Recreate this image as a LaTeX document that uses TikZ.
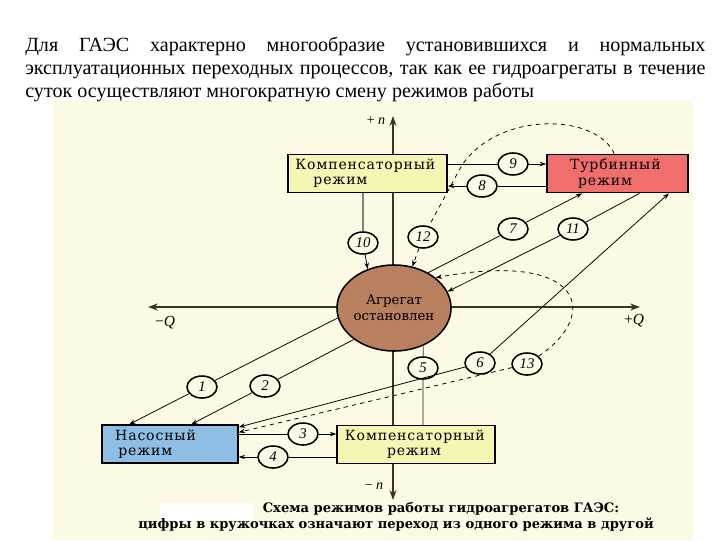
\documentclass[tikz,border=0pt]{standalone}
\usepackage{fontspec}
\setmainfont{Liberation Serif}
\newfontfamily\labelfont{DejaVu Serif}
\newfontfamily\boxfont[LetterSpace=6]{DejaVu Serif}
\usetikzlibrary{arrows.meta,shapes.geometric}

\definecolor{panel}{RGB}{252,250,228}
\definecolor{compyellow}{RGB}{246,246,180}
\definecolor{turbred}{RGB}{240,110,108}
\definecolor{pumpblue}{RGB}{142,190,228}
\definecolor{stopbrown}{RGB}{184,128,94}
\definecolor{axisdark}{RGB}{58,52,36}

\tikzset{
  mode/.style={draw=black, line width=1.1pt, minimum height=0.92cm, inner xsep=0pt,
    align=left, font=\boxfont\fontsize{10}{10.7}\selectfont},
  stopmode/.style={draw=black, line width=1.1pt, ellipse, fill=stopbrown, inner sep=0pt,
    minimum width=2.85cm, minimum height=2.15cm},
  num/.style={draw=black, ellipse, line width=1.1pt, fill=panel, inner sep=0pt,
    minimum width=0.75cm, minimum height=0.55cm, font=\itshape\fontsize{10.5}{10.5}\selectfont},
  axis/.style={draw=axisdark, line width=1.8pt,
    {Stealth[length=7pt,width=5pt]}-{Stealth[length=7pt,width=5pt]}},
  axlabel/.style={font=\fontsize{10}{10}\selectfont},
  conn/.style={draw=black, line width=0.55pt},
  arr/.style={-{Stealth[length=4.5pt,width=3.2pt]}},
  grayline/.style={draw=gray, line width=1.8pt},
  para/.style={inner sep=0pt, font=\fontsize{14.3}{16}\selectfont},
  caption/.style={inner sep=0pt, font=\labelfont\bfseries\fontsize{9.3}{11}\selectfont}
}

\begin{document}
\begin{tikzpicture}[x=0.025cm, y=-0.025cm]
  \useasboundingbox (0,0) rectangle (720,540);
  \fill[panel] (53,100) rectangle (693,540);
  \fill[white] (160,503) rectangle (253,520);

  % text above the scheme
  \node[para, anchor=base west] (p1) at (25,51) {\makebox[17cm][s]{Для ГАЭС характерно многообразие установившихся и нормальных}};
  \node[para, anchor=base west] (p2) at (25,74) {\makebox[17cm][s]{эксплуатационных переходных процессов, так как ее гидроагрегаты в течение}};
  \node[para, anchor=base west] (p3) at (25,97) {суток осуществляют многократную смену режимов работы};

  % axes
  \coordinate (ntop) at (393,116);
  \coordinate (nbot) at (393,500);
  \coordinate (qleft) at (148,307);
  \coordinate (qright) at (640,307);
  \draw[axis] (nbot) -- (ntop);
  \draw[axis] (qleft) -- (qright);
  \node[axlabel] (lntop) at (376,121) {+ \textit{n}};
  \node[axlabel] (lnbot) at (374,486) {− \textit{n}};
  \node[axlabel, font=\fontsize{11}{11}\selectfont] (lqleft) at (165,323) {−\textit{Q}};
  \node[axlabel, font=\fontsize{11}{11}\selectfont] (lqright) at (634,321) {+\textit{Q}};

  % modes
  \node[mode, fill=compyellow, minimum width=3.98cm, text width=3.6cm] (tc) at (367.5,173.5) {Компенсаторный\\\hspace*{0.45cm}режим};
  \node[mode, fill=turbred, minimum width=3.53cm, text width=2.37cm] (tb) at (617.5,173.5) {Турбинный\\\hspace*{0.2cm}режим};
  \node[mode, fill=pumpblue, minimum width=3.4cm, minimum height=0.9cm, text width=2.74cm] (pu) at (170,444) {Насосный\\\hspace*{0.08cm}режим};
  \node[mode, fill=compyellow, minimum width=3.95cm, minimum height=0.88cm, text width=3.55cm] (bc) at (416,444.5) {Компенсаторный\\\hspace*{1.05cm}режим};
  \node[stopmode, label={[align=center, font=\labelfont\fontsize{9.5}{11.4}\selectfont]center:Агрегат\\остановлен}] (st) at (394,308) {};

  % transitions
  \node[num] (n1) at (202,387) {1};
  \node[num] (n2) at (265,386) {2};
  \node[num] (n3) at (303,434) {3};
  \node[num] (n4) at (273,457) {4};
  \node[num] (n5) at (423,368) {5};
  \node[num] (n6) at (480,363) {6};
  \node[num] (n7) at (513,229) {7};
  \node[num] (n8) at (482,186) {8};
  \node[num] (n9) at (513,164) {9};
  \node[num] (n10) at (363,243) {10};
  \node[num] (n11) at (573,229) {11};
  \node[num] (n12) at (423,237) {12};
  \node[num] (n13) at (527,364) {13};

  \draw[conn] (st.190) -- (n1);
  \draw[conn, arr] (n1) -- ([xshift=0.7cm]pu.north west);
  \draw[conn] (st.218) -- (n2);
  \draw[conn, arr] (n2) -- ([xshift=2.25cm]pu.north west);
  \draw[conn] (pu.east |- n3) -- (n3);
  \draw[conn, arr] (n3) -- (bc.west |- n3);
  \draw[conn] (bc.west |- n4) -- (n4);
  \draw[conn, arr] (n4) -- (pu.east |- n4);
  \draw[draw=gray, line width=0.8pt] (st.-52) -- (n5) -- (bc.north -| n5);
  \draw[conn, arr] (n6) -- ([xshift=-0.5cm]tb.south east);
  \draw[conn, arr] (n6) -- ([yshift=-0.07cm]pu.north east);
  \draw[conn] (st.46) -- (n7);
  \draw[conn, arr] (n7) -- ([xshift=0.9cm]tb.south west);
  \draw[conn] (tb.west |- n8) -- (n8);
  \draw[conn, arr] (n8) -- (tc.east |- n8);
  \draw[conn] (tc.east |- n9) -- (n9);
  \draw[conn, arr] (n9) -- (tb.west |- n9);
  \draw[grayline] (tc.south -| n10) -- (n10);
  \draw[conn, arr] (n10) -- (st.124);
  \draw[conn] ([xshift=2.33cm]tb.south west) -- (n11);
  \draw[conn, arr] (n11) -- (st.17);
  \draw[conn, dashed] ([xshift=1.7cm]tb.north west) .. controls (597,114) and (500,110) .. (462,165) -- (n12);
  \draw[conn, dashed, arr] (n12) -- (st.66);
  \draw[conn, dashed, arr] (n13) -- ([yshift=-0.2cm]pu.north east);
  \draw[conn, dashed, arr] (n13) .. controls (600,315) and (585,250) .. (st.36);

  % caption
  \node[caption] (cap1) at (441,509) {Схема режимов работы гидроагрегатов ГАЭС:};
  \node[caption] (cap2) at (396,525) {цифры в кружочках означают переход из одного режима в другой};
\end{tikzpicture}
\end{document}
